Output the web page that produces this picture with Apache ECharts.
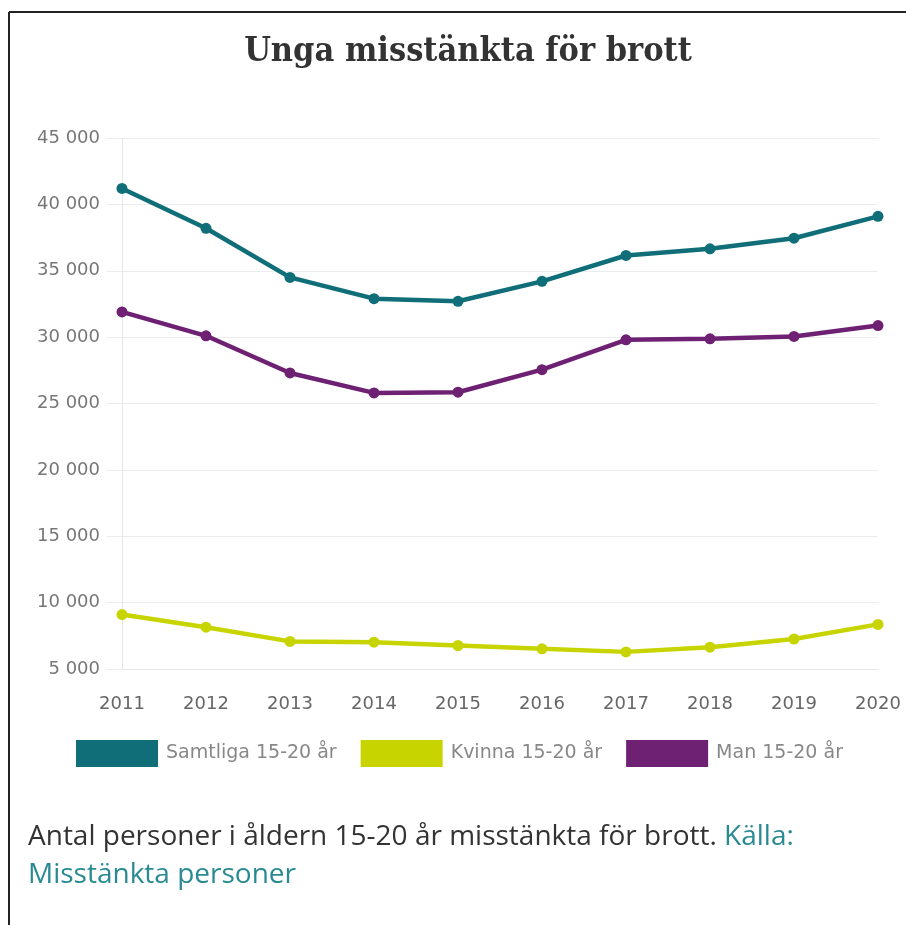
<!DOCTYPE html>
<html>
<head>
<meta charset="utf-8">
<script src="https://cdn.jsdelivr.net/npm/echarts@6/dist/echarts.min.js"></script>
<style>
  html, body { margin: 0; padding: 0; background: #fff; }
  #chart { width: 906px; height: 925px; }
</style>
</head>
<body>
<div id="chart"></div>
<script>
var years = ["2011", "2012", "2013", "2014", "2015", "2016", "2017", "2018", "2019", "2020"];
var samtliga = [41200, 38200, 34500, 32900, 32700, 34200, 36150, 36650, 37450, 39100];
var kvinna = [9100, 8150, 7080, 7020, 6770, 6520, 6290, 6640, 7260, 8360];
var man = [31900, 30100, 27300, 25800, 25850, 27550, 29800, 29870, 30050, 30870];
var seriesNames = ["Samtliga 15-20 år", "Kvinna 15-20 år", "Man 15-20 år"];
var colors = ["#0f6e78", "#c8d400", "#6e2172"];

var sansFont = "DejaVu Sans, sans-serif";
var chart = echarts.init(document.getElementById("chart"));

function lineSeries(name, data, color) {
  return {
    name: name,
    type: "line",
    data: data,
    symbol: "circle",
    symbolSize: 11,
    color: color,
    lineStyle: { width: 4.5, color: color },
    itemStyle: { color: color },
    emphasis: { disabled: true }
  };
}

chart.setOption({
  animation: false,
  title: {
    text: "Unga misstänkta för brott",
    left: 463,
    textAlign: "center",
    top: 30,
    textStyle: {
      fontFamily: "DejaVu Serif Condensed, DejaVu Serif, serif",
      fontWeight: "bold",
      fontSize: 34,
      color: "#333"
    }
  },
  grid: {
    left: 122,
    right: 28,
    top: 138,
    bottom: 256
  },
  legend: {
    data: seriesNames,
    top: 735,
    left: 71,
    icon: "rect",
    itemWidth: 82,
    itemHeight: 27,
    itemGap: 24,
    textStyle: { fontFamily: sansFont, fontSize: 19, color: "#888", padding: [0, 0, 0, 3] }
  },
  xAxis: {
    type: "category",
    boundaryGap: false,
    data: years,
    axisLine: { show: true, lineStyle: { color: "#e6e6e6", width: 1 } },
    axisTick: { show: false },
    axisLabel: { fontFamily: sansFont, fontSize: 18, color: "#666", margin: 26 },
    splitLine: { show: false }
  },
  yAxis: {
    type: "value",
    min: 5000,
    max: 45000,
    interval: 5000,
    axisLine: { show: true, lineStyle: { color: "#e6e6e6", width: 1 } },
    axisTick: { show: true, length: 15, lineStyle: { color: "#ececec" } },
    axisLabel: {
      fontFamily: sansFont,
      fontSize: 18,
      color: "#777",
      margin: 22,
      formatter: function (v) {
        return String(v).replace(/\B(?=(\d{3})+(?!\d))/g, " ");
      }
    },
    splitLine: { lineStyle: { color: "#ececec", width: 1 } }
  },
  graphic: [
    // ram
    { type: "line", shape: { x1: 9, y1: 12, x2: 906, y2: 12 }, style: { stroke: "#222", lineWidth: 2 } },
    { type: "line", shape: { x1: 9, y1: 12, x2: 9, y2: 925 }, style: { stroke: "#222", lineWidth: 2 } },
    {
      type: "text",
      left: 28,
      top: 823,
      style: {
        text: "{a|Antal personer i åldern 15-20 år misstänkta för brott. }{b|Källa:}\n{b|Misstänkta personer}",
        rich: {
          a: { fontFamily: "Open Sans, sans-serif", fontSize: 28, fill: "#333", lineHeight: 38 },
          b: { fontFamily: "Open Sans, sans-serif", fontSize: 28, fill: "#2a8a93", lineHeight: 38 }
        }
      }
    }
  ],
  series: [
    lineSeries(seriesNames[0], samtliga, colors[0]),
    lineSeries(seriesNames[1], kvinna, colors[1]),
    lineSeries(seriesNames[2], man, colors[2])
  ]
});
</script>
</body>
</html>
